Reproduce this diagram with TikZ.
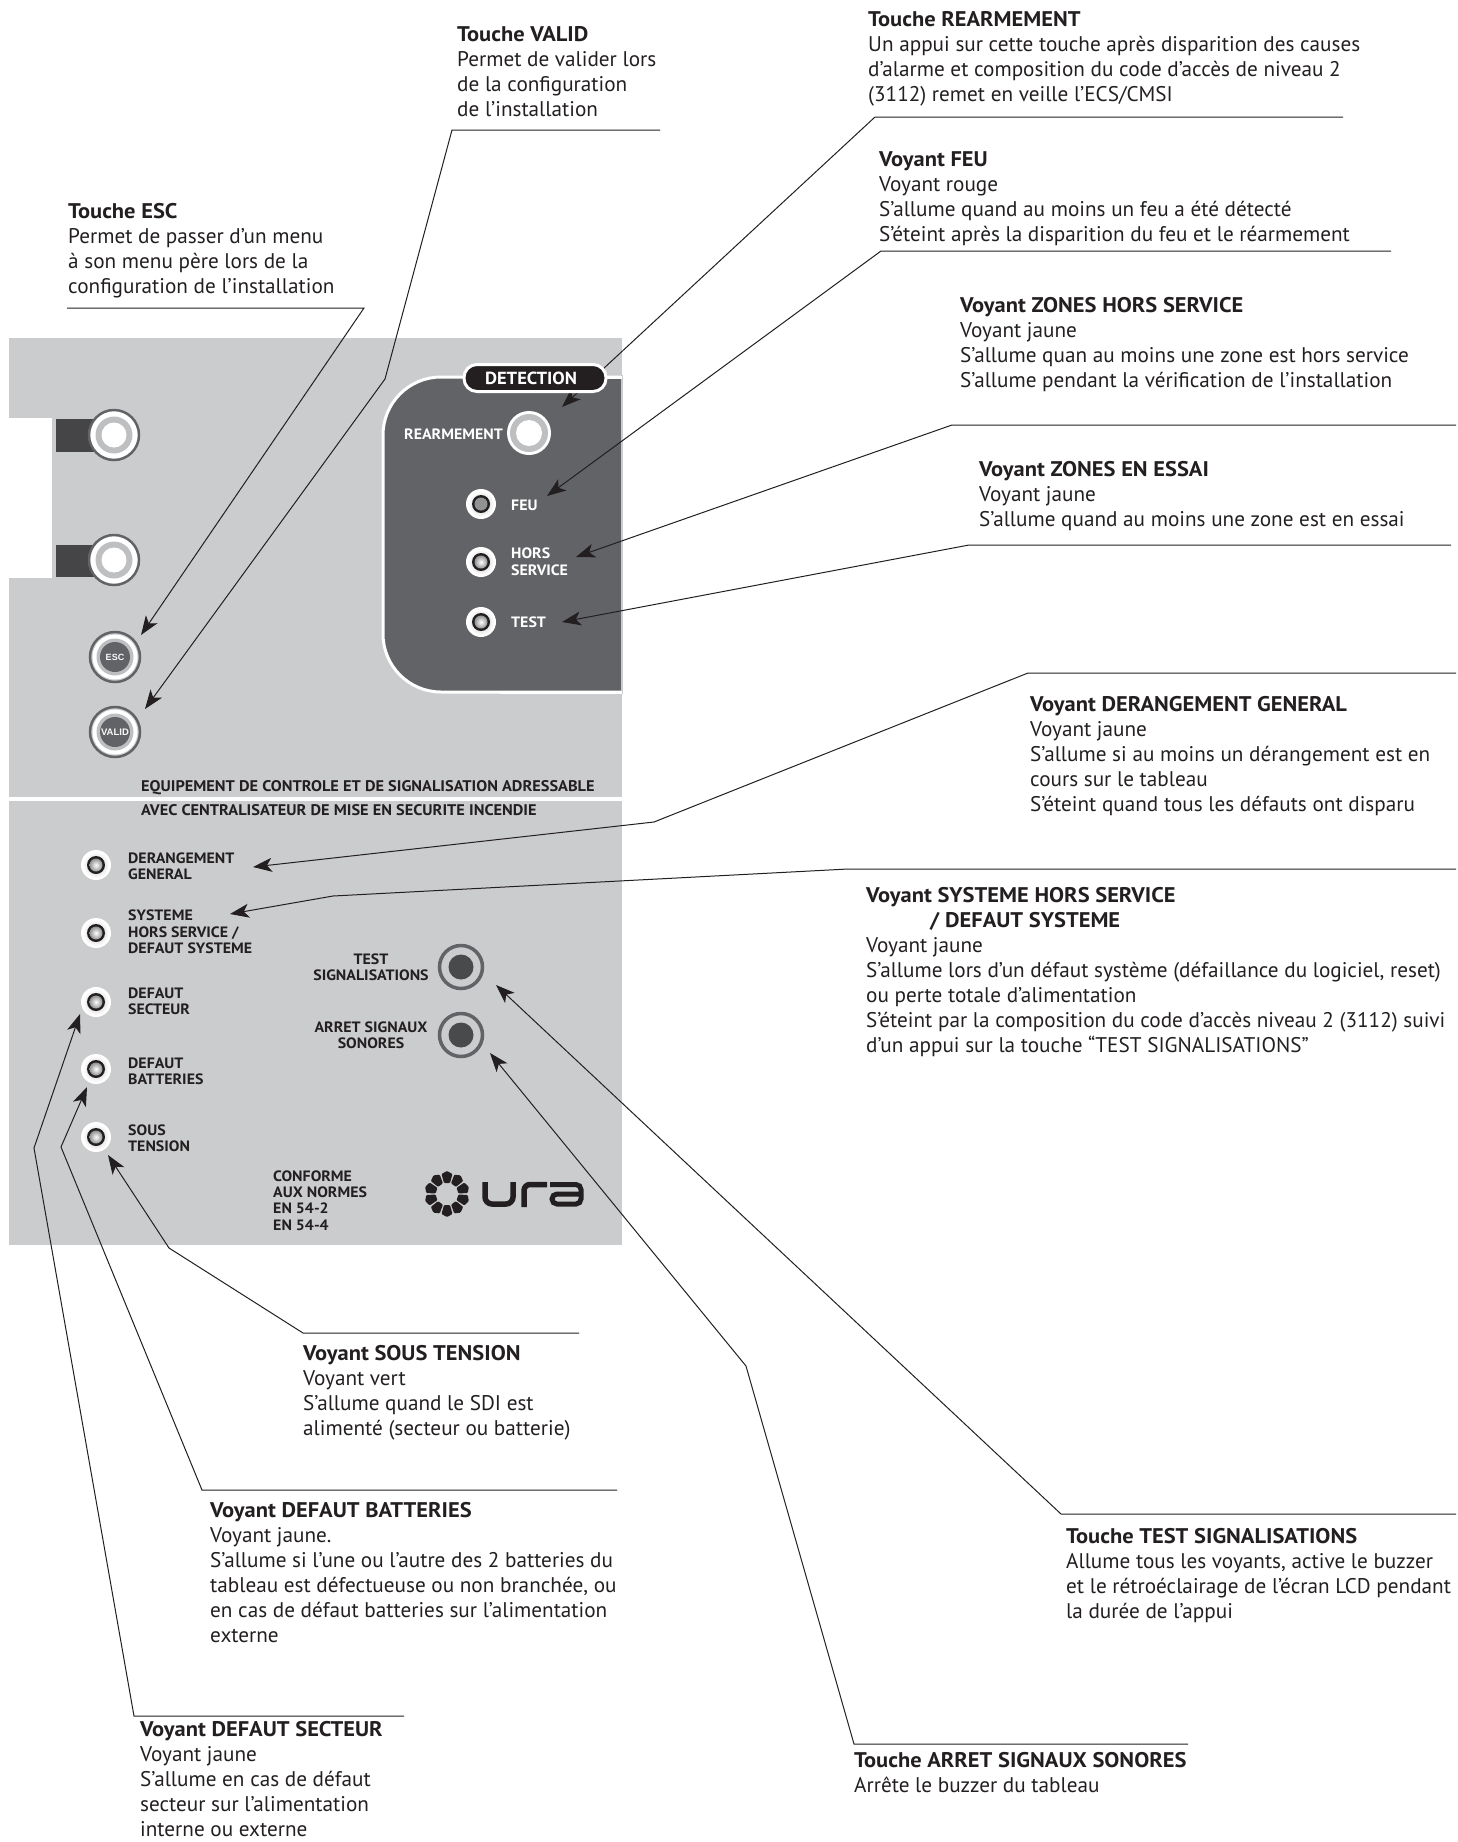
\documentclass[tikz,border=0pt]{standalone}
\usepackage{fontspec}
\setmainfont[BoldFeatures={FakeStretch=1.06}]{PT Sans}
\newfontfamily\smallsans{Liberation Sans}
\usetikzlibrary{arrows.meta}
\definecolor{panel}{HTML}{CBCCCE}
\definecolor{darkp}{HTML}{626366}
\definecolor{ink}{HTML}{231F20}
\definecolor{ringg}{HTML}{BDBFC1}
\tikzset{
  note/.style={anchor=north west,inner sep=0pt,align=left,text=ink,font=\fontsize{21.2}{25}\selectfont},
  conn/.style={draw=ink,line width=1pt,-{Stealth[length=19pt,width=14pt,inset=5pt]}},
  lbl/.style={anchor=west,inner sep=0pt,align=left,text=ink,font=\fontsize{15}{16.3}\selectfont\bfseries},
  lblc/.style={inner sep=0pt,align=center,text=ink,font=\fontsize{15}{16.3}\selectfont\bfseries},
  lblw/.style={anchor=west,inner sep=0pt,align=left,text=white,font=\fontsize{15}{17}\selectfont\bfseries},
  ttl/.style={anchor=west,inner sep=0pt,text=ink,font=\fontsize{15.4}{17}\selectfont\bfseries},
  disc/.style={circle,inner sep=0pt,minimum size=#1},
}
\newcommand{\ledmark}[4]{%
  \node[disc=30pt,fill=white] (#1) at (#2,#3) {};
  \shade[inner color=ringg,outer color=white] (#1.center) circle[radius=13pt];
  \fill[ink] (#1.center) circle[radius=9pt];
  \shade[inner color=#4,outer color=darkp!70!white] (#1.center) circle[radius=6.5pt];
}
\newcommand{\bigknob}[3]{%
  \node[disc=50pt,fill=white,draw=darkp,line width=2.5pt] (#1) at (#2,#3) {};
  \fill[ringg] (#1.center) circle[radius=18.5pt];
  \fill[white] (#1.center) circle[radius=12.5pt];
}
\newcommand{\softkey}[4]{%
  \node[disc=50pt,fill=panel,draw=darkp,line width=2.5pt] (#1) at (#2,#3) {};
  \fill[white] (#1.center) circle[radius=22.5pt];
  \fill[ringg] (#1.center) circle[radius=18.5pt];
  \node[disc=30pt,fill=darkp,text=white!88!panel,font=\smallsans\bfseries\fontsize{#4}{#4}\selectfont] at (#1.center) {\MakeUppercase{#1}};
}
\newcommand{\testkey}[3]{%
  \node[disc=43pt,fill=panel,draw=darkp,line width=3.5pt] (#1) at (#2,#3) {};
  \fill[darkp!75!black] (#1.center) circle[radius=12.5pt];
}
\begin{document}
\begin{tikzpicture}[x=1pt,y=-1pt]
\useasboundingbox (0,0) rectangle (1458,1842);
% panel
\fill[panel] (9,338) rectangle (622,797);
\fill[panel] (9,801) rectangle (622,1245);
\fill[white] (9,418) rectangle (52,578);
\fill[darkp!70!black] (56,419) rectangle (95,452);
\fill[darkp!70!black] (56,545) rectangle (95,577);
\bigknob{knoba}{114}{435}
\bigknob{knobb}{114}{560}
\softkey{esc}{115}{657}{9}
\softkey{valid}{115}{732}{9.5}
% detection block
\path[fill=darkp,draw=white,line width=3pt,rounded corners=58pt]
  (622,377) -- (383,377) -- (383,692) -- (622,692);
\fill[panel] (621,375) rectangle (622.5,694);
\draw[white,line width=3pt] (500,377) -- (622,377);
\draw[white,line width=3pt] (500,692) -- (622,692);
\node[disc=44pt,fill=white] (rearm) at (529,433) {};
\fill[ringg] (rearm.center) circle[radius=19pt];
\fill[white] (rearm.center) circle[radius=13pt];
\node[lblw,anchor=east] (rearmlabel) at (503,434) {REARMEMENT};
\ledmark{ledfeu}{481}{504}{darkp!70!white}
\ledmark{ledhs}{481}{562}{white}
\ledmark{ledtest}{481}{622}{white}
\node[lblw] (lfeu) at (511,505) {FEU};
\node[lblw] (lhs) at (511,562) {HORS\\SERVICE};
\node[lblw] (ltest) at (511,622) {TEST};
% title
\node[ttl] (title1) at (141,788) {EQUIPEMENT DE CONTROLE ET DE SIGNALISATION ADRESSABLE};
\node[ttl] (title2) at (141,810) {AVEC CENTRALISATEUR DE MISE EN SECURITE INCENDIE};
\fill[white] (9,797) rectangle (622,801);
% lower leds
\ledmark{leda}{96}{865}{white}
\ledmark{ledb}{96}{933}{white}
\ledmark{ledc}{96}{1002}{white}
\ledmark{ledd}{96}{1069}{white}
\ledmark{lede}{96}{1137}{white}
\node[lbl] (la) at (128,866) {DERANGEMENT\\GENERAL};
\node[lbl] (lb) at (128,932) {SYSTEME\\HORS SERVICE /\\DEFAUT SYSTEME};
\node[lbl] (lc) at (128,1001) {DEFAUT\\SECTEUR};
\node[lbl] (ld) at (128,1071) {DEFAUT\\BATTERIES};
\node[lbl] (le) at (128,1138) {SOUS\\TENSION};
\testkey{testsig}{461}{967}
\testkey{testarr}{461}{1035}
\node[lblc] (ltestsig) at (371,967) {TEST\\SIGNALISATIONS};
\node[lblc] (ltestarr) at (371,1035) {ARRET SIGNAUX\\SONORES};
\node[lbl] (conforme) at (273,1200.5) {CONFORME\\AUX NORMES\\EN 54-2\\EN 54-4};
% logo
\foreach \a in {18,54,...,342} {
  \fill[ink,rounded corners=1pt,rotate around={\a:(447,1194)}]
    (458,1191) -- (467,1188.5) -- (470,1194) -- (467,1199.5) -- (458,1197) -- cycle;
}
\draw[ink,line width=5.5pt,rounded corners=7pt] (485,1182) -- (485,1204) -- (513,1204) -- (513,1182);
\draw[ink,line width=5.5pt,rounded corners=6pt] (524,1207) -- (524,1184.5) -- (547,1184.5);
\draw[ink,line width=5pt,rounded corners=5pt] (550,1184.5) -- (581,1184.5) -- (581,1204) -- (552,1204) -- (552,1194) -- (581,1194);
% notes
\node[note] (nesc) at (68,203) {\textbf{Touche ESC}\\Permet de passer d’un menu\\à son menu père lors de la\\configuration de l’installation};
\node[note] (nvalid) at (457,26) {\textbf{Touche VALID}\\Permet de valider lors\\de la configuration\\de l’installation};
\node[note] (nrearm) at (868,11) {\textbf{Touche REARMEMENT}\\Un appui sur cette touche après disparition des causes\\d’alarme et composition du code d’accès de niveau 2\\(3112) remet en veille l’ECS/CMSI};
\node[note] (nfeu) at (879,151) {\textbf{Voyant FEU}\\Voyant rouge\\S’allume quand au moins un feu a été détecté\\S’éteint après la disparition du feu et le réarmement};
\node[note] (nzhs) at (960,297) {\textbf{Voyant ZONES HORS SERVICE}\\Voyant jaune\\S’allume quan au moins une zone est hors service\\S’allume pendant la vérification de l’installation};
\node[note] (nzes) at (979,461) {\textbf{Voyant ZONES EN ESSAI}\\Voyant jaune\\S’allume quand au moins une zone est en essai};
\node[note] (nder) at (1030,696) {\textbf{Voyant DERANGEMENT GENERAL}\\Voyant jaune\\S’allume si au moins un dérangement est en\\cours sur le tableau\\S’éteint quand tous les défauts ont disparu};
\node[note] (nsys) at (866,887) {\textbf{Voyant SYSTEME HORS SERVICE}\\\hspace*{64pt}\textbf{/ DEFAUT SYSTEME}\\Voyant jaune\\S’allume lors d’un défaut système (défaillance du logiciel, reset)\\ou perte totale d’alimentation\\S’éteint par la composition du code d’accès niveau 2 (3112) suivi\\d’un appui sur la touche “TEST SIGNALISATIONS”};
\node[note] (nsous) at (303,1345) {\textbf{Voyant SOUS TENSION}\\Voyant vert\\S’allume quand le SDI est\\alimenté (secteur ou batterie)};
\node[note] (nbat) at (210,1502) {\textbf{Voyant DEFAUT BATTERIES}\\Voyant jaune.\\S’allume si l’une ou l’autre des 2 batteries du\\tableau est défectueuse ou non branchée, ou\\en cas de défaut batteries sur l’alimentation\\externe};
\node[note] (nsec) at (140,1721) {\textbf{Voyant DEFAUT SECTEUR}\\Voyant jaune\\S’allume en cas de défaut\\secteur sur l’alimentation\\interne ou externe};
\node[note] (ntsig) at (1066,1528) {\textbf{Touche TEST SIGNALISATIONS}\\Allume tous les voyants, active le buzzer\\et le rétroéclairage de l’écran LCD pendant\\la durée de l’appui};
\node[note] (narr) at (854,1752) {\textbf{Touche ARRET SIGNAUX SONORES}\\Arrête le buzzer du tableau};
% connector ends
\coordinate (e1) at (67,308); \coordinate (k1) at (364,308); \coordinate (t1) at (141,635);
\coordinate (e2) at (660,130); \coordinate (k2a) at (452,130); \coordinate (k2b) at (385,379); \coordinate (t2) at (145,709);
\coordinate (e3) at (1343,117); \coordinate (k3) at (875,117); \coordinate (t3) at (562,407);
\coordinate (e4) at (1391,251); \coordinate (k4) at (881,251); \coordinate (t4) at (547,496);
\coordinate (e5) at (1456,425); \coordinate (k5) at (952,425); \coordinate (t5) at (576,557);
\coordinate (e6) at (1451,545); \coordinate (k6) at (969,545); \coordinate (t6) at (562,622);
\coordinate (e7) at (1456,673); \coordinate (k7a) at (1028,673); \coordinate (k7b) at (654,822); \coordinate (t7) at (253,867);
\coordinate (e8) at (1456,869); \coordinate (k8a) at (848,869); \coordinate (k8b) at (333,896); \coordinate (t8) at (230,914);
\coordinate (e9) at (1456,1514); \coordinate (k9) at (1061,1514); \coordinate (t9) at (496,985);
\coordinate (e10) at (1188,1744); \coordinate (k10a) at (854,1744); \coordinate (k10b) at (746,1366); \coordinate (t10) at (490,1053);
\coordinate (e11) at (579,1333); \coordinate (k11a) at (303,1333); \coordinate (k11b) at (169,1248); \coordinate (t11) at (108,1155);
\coordinate (e12) at (617,1490); \coordinate (k12a) at (202,1490); \coordinate (k12b) at (61,1147); \coordinate (t12) at (87,1087);
\coordinate (e13) at (404,1716); \coordinate (k13a) at (134,1716); \coordinate (k13b) at (34,1148); \coordinate (t13) at (80,1014);
\draw[conn] (e1) -- (k1) -- (t1);
\draw[conn] (e2) -- (k2a) -- (k2b) -- (t2);
\draw[conn] (e3) -- (k3) -- (t3);
\draw[conn] (e4) -- (k4) -- (t4);
\draw[conn] (e5) -- (k5) -- (t5);
\draw[conn] (e6) -- (k6) -- (t6);
\draw[conn] (e7) -- (k7a) -- (k7b) -- (t7);
\draw[conn] (e8) -- (k8a) -- (k8b) -- (t8);
\draw[conn] (e9) -- (k9) -- (t9);
\draw[conn] (e10) -- (k10a) -- (k10b) -- (t10);
\draw[conn] (e11) -- (k11a) -- (k11b) -- (t11);
\draw[conn] (e12) -- (k12a) -- (k12b) -- (t12);
\draw[conn] (e13) -- (k13a) -- (k13b) -- (t13);
% pill over the connector
\node[fill=ink,draw=white,line width=3pt,rounded corners=13pt,minimum width=142pt,minimum height=27pt,inner sep=0pt,text=white,font=\fontsize{17.5}{18}\selectfont\bfseries] (detect) at (535,378) {\kern-8pt DETECTION};
\end{tikzpicture}
\end{document}
